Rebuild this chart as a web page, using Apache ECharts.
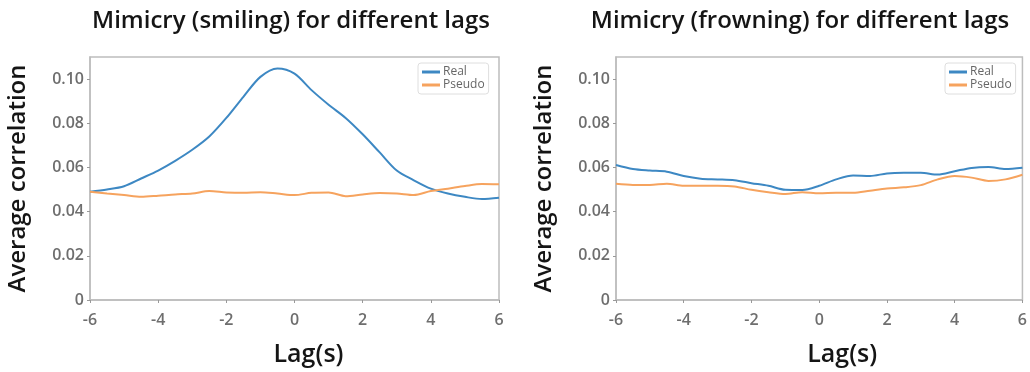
<!DOCTYPE html>
<html><head><meta charset="utf-8">
<script src="https://cdn.jsdelivr.net/npm/echarts@6/dist/echarts.min.js"></script>
<style>html,body{margin:0;padding:0;background:#fff}#c{width:1030px;height:372px}</style>
</head><body><div id="c"></div>
<script>
const lags = [-6,-5.5,-5,-4.5,-4,-3.5,-3,-2.5,-2,-1.5,-1,-0.5,0,0.5,1,1.5,2,2.5,3,3.5,4,4.5,5,5.5,6];
const smileReal   = [0.049,0.050,0.0515,0.055,0.0586,0.063,0.068,0.074,0.0824,0.092,0.101,0.1048,0.1025,0.095,0.0884,0.0824,0.075,0.0668,0.0586,0.0542,0.0504,0.0482,0.0467,0.0457,0.0463];
const smilePseudo = [0.049,0.0482,0.0475,0.0467,0.0472,0.0478,0.0482,0.0493,0.0487,0.0485,0.0488,0.0482,0.0475,0.0485,0.0487,0.047,0.0478,0.0484,0.0482,0.0475,0.0493,0.0504,0.0516,0.0525,0.0524];
const frownReal   = [0.0611,0.0593,0.0586,0.0581,0.0561,0.0549,0.0546,0.0542,0.0529,0.0517,0.0499,0.0498,0.0517,0.0546,0.0564,0.0561,0.0573,0.0576,0.0576,0.0568,0.0583,0.0598,0.0602,0.0593,0.0599];
const frownPseudo = [0.0526,0.0521,0.0521,0.0526,0.0517,0.0517,0.0517,0.0514,0.0499,0.0488,0.048,0.0488,0.0483,0.0485,0.0485,0.0495,0.0505,0.051,0.052,0.0546,0.0561,0.0554,0.0539,0.0546,0.0567];
const titles = ['Mimicry (smiling) for different lags','Mimicry (frowning) for different lags'];
const xName = 'Lag(s)';
const yName = 'Average correlation';
const seriesNames = ['Real','Pseudo'];

const FONT = '"Open Sans", Lato, sans-serif';
const BLUE = '#3d88c3', ORANGE = '#f6a35e';
const pair = (xs, ys) => xs.map((x, i) => [x, ys[i]]);

const grids = [
  {left: 90, top: 57, width: 409, height: 246},
  {left: 616, top: 57, width: 409, height: 247}
];
const titleCenters = [286, 795];
const xNameShift = [28, 46];
const legendPos = [{left: 418, top: 63}, {left: 945, top: 63}];
const data = [[smileReal, smilePseudo],[frownReal, frownPseudo]];

const option = {
  animation: false,
  textStyle: {fontFamily: FONT},
  title: titles.map((t, i) => ({
    text: t, left: titleCenters[i], top: 4, textAlign: 'center',
    textStyle: {fontFamily: FONT, fontSize: 24, fontWeight: 600, color: '#151515'}
  })),
  legend: legendPos.map((p, i) => ({
    left: p.left, top: p.top, orient: 'vertical', itemGap: 1,
    itemWidth: 18, itemHeight: 3, icon: 'rect',
    padding: [3, 4, 3, 4], borderColor: '#dedede', borderWidth: 1, borderRadius: 3,
    textStyle: {fontFamily: FONT, fontSize: 12, color: '#666', padding: [0,0,0,-2]},
    data: seriesNames
  })),
  grid: grids.map(g => Object.assign({show: true, borderColor: '#bdbdbd', borderWidth: 1.5, containLabel: false}, g)),
  xAxis: grids.map((g, i) => ({
    type: 'value', gridIndex: i, min: -6, max: 6, interval: 2,
    name: xName, nameLocation: 'middle', nameGap: 42,
    nameTextStyle: {fontFamily: FONT, fontSize: 25, fontWeight: 600, color: '#151515', padding: [0, 0, 0, xNameShift[i]]},
    axisLine: {show: true, onZero: false, lineStyle: {color: '#bdbdbd', width: 1.5}},
    axisTick: {show: true, length: 3, lineStyle: {color: '#999'}},
    axisLabel: {fontFamily: FONT, fontSize: 16, fontWeight: 600, color: '#6e6e6e', margin: 12},
    splitLine: {show: false}
  })),
  yAxis: grids.map((g, i) => ({
    type: 'value', gridIndex: i, min: 0, max: 0.11, interval: 0.02,
    name: yName, nameLocation: 'middle', nameGap: 60,
    nameTextStyle: {fontFamily: FONT, fontSize: 24, fontWeight: 600, color: '#151515'},
    axisLine: {show: true, onZero: false, lineStyle: {color: '#bdbdbd', width: 1.5}},
    axisTick: {show: true, length: 3, lineStyle: {color: '#999'}},
    axisLabel: {fontFamily: FONT, fontSize: 16, fontWeight: 600, color: '#6e6e6e', margin: 6, showMaxLabel: false,
      formatter: v => v === 0 ? '0' : v.toFixed(2)},
    splitLine: {show: false}
  })),
  series: []
};
data.forEach((d, i) => {
  [BLUE, ORANGE].forEach((c, k) => {
    option.series.push({
      type: 'line', name: seriesNames[k], xAxisIndex: i, yAxisIndex: i,
      data: pair(lags, d[k]), smooth: 0.3, showSymbol: false, symbol: 'none',
      lineStyle: {color: c, width: 2}, itemStyle: {color: c}
    });
  });
});
const chart = echarts.init(document.getElementById('c'), null, {renderer: 'canvas'});
chart.setOption(option);
</script></body></html>
